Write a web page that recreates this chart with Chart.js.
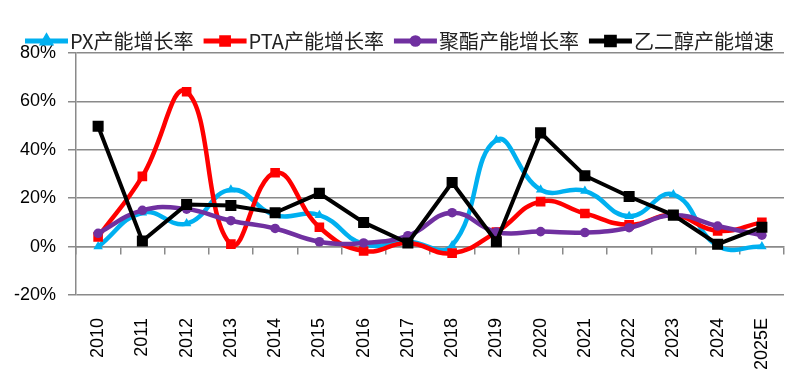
<!DOCTYPE html>
<html lang="zh">
  <head>
    <meta charset="utf-8" />
    <title>产能增长率</title>
    <style>
      html, body { margin: 0; padding: 0; background: #fff; }
      .chartBox { width: 807px; height: 375px; }
    </style>
  </head>
  <body>
    <div class="chartBox">
      <canvas id="myChart"></canvas>
    </div>
    <script src="https://cdn.jsdelivr.net/npm/chart.js/dist/chart.umd.min.js"></script>
    <script>
      // data (percent)
      const years = ["2010", "2011", "2012", "2013", "2014", "2015", "2016", "2017",
                     "2018", "2019", "2020", "2021", "2022", "2023", "2024", "2025E"];
      const pxGrowth = [0, 14, 9.5, 23.5, 13, 13, 1, 2, 0.5, 44, 23.5, 23, 12.5, 21.5, 0.3, 0];
      const ptaGrowth = [4, 29, 64, 1, 30.5, 8, -1.8, 1.5, -2.7, 6, 18.6, 13.7, 9, 13, 6.5, 10];
      const polyesterGrowth = [5.5, 15, 15.5, 10.7, 7.5, 2, 1.5, 4.5, 14, 6, 6.2, 5.8, 7.8, 13, 8.5, 4.7];
      const megGrowth = [49.7, 2.3, 17.4, 17, 14, 22, 10, 1.5, 26.5, 2, 47, 29.3, 20.7, 13, 1, 8];
      const yTicks = [-20, 0, 20, 40, 60, 80];

      const gridColor = "#8a8a8a";

      // legend drawn as line + marker like the original
      const lineLegend = {
        id: "lineLegend",
        afterDraw(chart) {
          const ctx = chart.ctx;
          ctx.save();
          ctx.font = '20px "Noto Sans CJK SC"';
          ctx.textBaseline = "middle";
          let x = 25;
          const y = 41;
          chart.data.datasets.forEach(function (ds) {
            ctx.strokeStyle = ds.borderColor;
            ctx.lineWidth = 5;
            ctx.beginPath();
            ctx.moveTo(x, y);
            ctx.lineTo(x + 43, y);
            ctx.stroke();
            ctx.fillStyle = ds.borderColor;
            Chart.helpers.drawPoint(ctx, {
              pointStyle: ds.pointStyle,
              radius: ds.pointRadius * 0.7,
              rotation: 0,
              borderWidth: 1
            }, x + 21.5, y);
            ctx.fill();
            ctx.fillStyle = "#222";
            ctx.fillText(ds.label, x + 45, y);
            x += 45 + ctx.measureText(ds.label).width + 10;
          });
          ctx.restore();
        }
      };

      const data = {
        labels: years,
        datasets: [
          {
            label: "PX产能增长率",
            data: pxGrowth,
            borderColor: "#00B0F0",
            backgroundColor: "#00B0F0",
            borderWidth: 4.5,
            tension: 0.45,
            pointStyle: "triangle",
            pointRadius: 5.5,
            pointBorderWidth: 0,
            order: 4
          },
          {
            label: "PTA产能增长率",
            data: ptaGrowth,
            borderColor: "#FF0000",
            backgroundColor: "#FF0000",
            borderWidth: 4.5,
            tension: 0.45,
            pointStyle: "rect",
            pointRadius: 6.8,
            pointBorderWidth: 0,
            order: 3
          },
          {
            label: "聚酯产能增长率",
            data: polyesterGrowth,
            borderColor: "#7030A0",
            backgroundColor: "#7030A0",
            borderWidth: 4.5,
            tension: 0.45,
            pointStyle: "circle",
            pointRadius: 4.8,
            pointBorderWidth: 0,
            order: 2
          },
          {
            label: "乙二醇产能增速",
            data: megGrowth,
            borderColor: "#000000",
            backgroundColor: "#000000",
            borderWidth: 4,
            tension: 0,
            pointStyle: "rect",
            pointRadius: 7.8,
            pointBorderWidth: 0,
            order: 1
          }
        ]
      };

      const config = {
        type: "line",
        data,
        options: {
          responsive: true,
          maintainAspectRatio: false,
          animation: false,
          layout: { padding: { top: 53, right: 23, left: 0, bottom: 0 } },
          plugins: {
            legend: { display: false },
            tooltip: { enabled: false }
          },
          scales: {
            x: {
              type: "category",
              offset: true,
              grid: { display: false },
              border: { display: false },
              ticks: {
                minRotation: 90,
                maxRotation: 90,
                padding: 15,
                color: "#000",
                font: { family: "Liberation Sans", size: 18 }
              },
              afterFit(scale) { scale.height = 80; }
            },
            x2: {
              type: "category",
              position: { y: 0 },
              offset: true,
              grid: { offset: true, drawOnChartArea: false, tickLength: 7, color: gridColor, lineWidth: 1.5 },
              border: { display: true, color: gridColor, width: 1.5 },
              ticks: { display: false }
            },
            y: {
              min: -20,
              max: 80,
              afterBuildTicks(scale) {
                scale.ticks = yTicks.map(v => ({ value: v }));
              },
              grid: { color: gridColor, lineWidth: 1.5, tickLength: 8 },
              border: { display: true, color: gridColor, width: 1.5 },
              ticks: {
                padding: 12,
                color: "#000",
                font: { family: "Liberation Sans", size: 18 },
                callback: v => v + "%"
              },
              afterFit(scale) { scale.width = 76; }
            }
          }
        },
        plugins: [lineLegend]
      };

      const myChart = new Chart(document.getElementById("myChart"), config);
    </script>
  </body>
</html>
